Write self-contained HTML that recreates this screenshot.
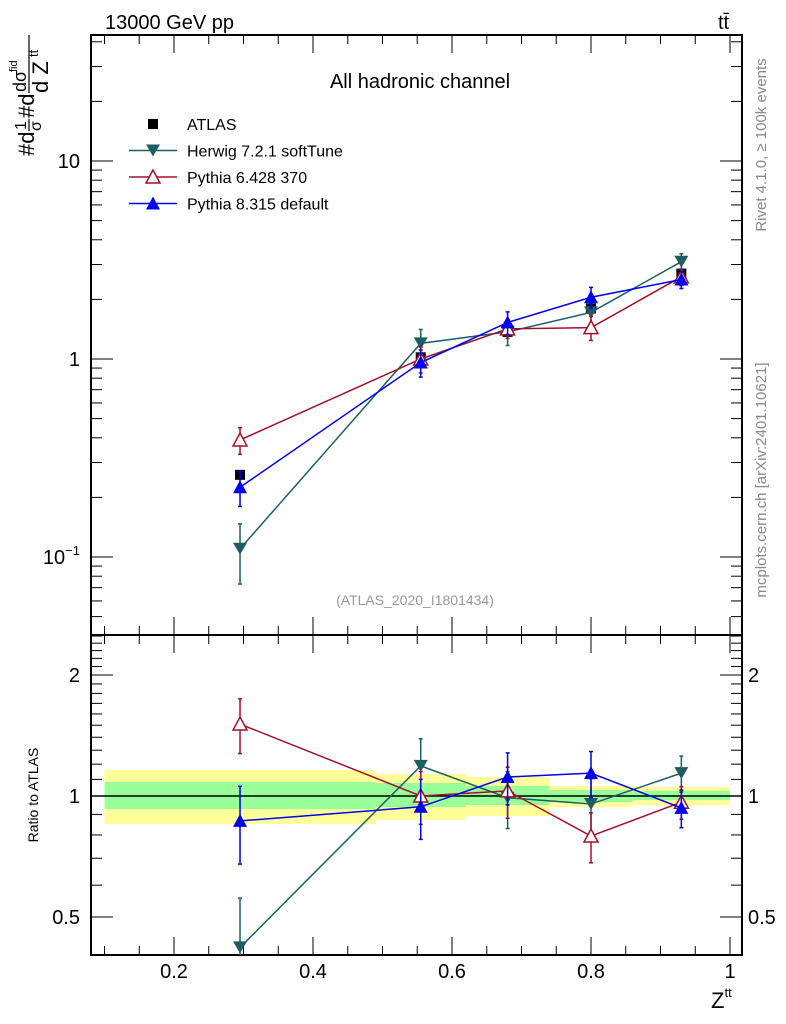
<!DOCTYPE html>
<html><head><meta charset="utf-8"><style>
body{margin:0;background:#fff;}
svg{display:block;font-family:"Liberation Sans",sans-serif;}
</style></head><body>
<svg id="c" width="786" height="1024" viewBox="0 0 786 1024" xmlns="http://www.w3.org/2000/svg">
<defs><clipPath id="rclip"><rect x="91" y="635" width="651" height="320"/></clipPath><clipPath id="mclip"><rect x="91" y="35" width="651" height="600"/></clipPath></defs>
<g id="bands"></g>
<g id="frames"></g>
<g id="series"></g>
<text x="105" y="29" font-size="20">13000 GeV pp</text>
<text x="718" y="29" font-size="20">tt̄</text>
<text x="420" y="88" font-size="20" text-anchor="middle">All hadronic channel</text>
<text x="415" y="605" font-size="14" fill="#999" text-anchor="middle">(ATLAS_2020_I1801434)</text>
<text transform="translate(766,145) rotate(-90)" font-size="15" fill="#888" text-anchor="middle">Rivet 4.1.0, ≥ 100k events</text>
<text transform="translate(766,480) rotate(-90)" font-size="15" fill="#888" text-anchor="middle">mcplots.cern.ch [arXiv:2401.10621]</text>
<g>
<text transform="translate(34,156) rotate(-90)" font-size="22">#d</text>
<text transform="translate(26,130) rotate(-90)" font-size="16">1</text>
<line x1="29" x2="29" y1="119" y2="131" stroke="#000" stroke-width="1.2"/>
<text transform="translate(41,131) rotate(-90)" font-size="16">σ</text>
<text transform="translate(34,118) rotate(-90)" font-size="22">#d</text>
<text transform="translate(26,92) rotate(-90)" font-size="18">dσ</text>
<text transform="translate(17,72) rotate(-90)" font-size="11">fid</text>
<line x1="29" x2="29" y1="35" y2="93" stroke="#000" stroke-width="1.2"/>
<text transform="translate(48,93) rotate(-90)" font-size="22">d Z</text>
<text transform="translate(38,57) rotate(-90)" font-size="13">tt</text>
</g>
<text transform="translate(38,795) rotate(-90)" font-size="14" text-anchor="middle">Ratio to ATLAS</text>
<text x="711" y="1008" font-size="22">Z<tspan font-size="13" dy="-11">tt</tspan></text>
<g id="legend"></g>
</svg>
<script>
const xCenters=[0.295,0.555,0.68,0.80,0.93];
const binEdges=[0.1,0.49,0.62,0.74,0.86,1.0];
const atlas=[0.26,1.02,1.37,1.8,2.7];
const herwig=[0.11,1.2,1.37,1.72,3.1];
const herwigErr=[0.037,0.21,0.2,0.2,0.3];
const py6=[0.39,1.0,1.42,1.44,2.6];
const py6Err=[0.06,0.15,0.15,0.2,0.25];
const py8=[0.225,0.96,1.53,2.05,2.52];
const py8Err=[0.045,0.15,0.2,0.25,0.25];
const rHerwig=[0.42,1.188,0.99,0.955,1.14];
const rHerwigErr=[0.137,0.2,0.16,0.15,0.117];
const rPy6=[1.51,1.0,1.03,0.795,0.965];
const rPy6Err=[0.235,0.15,0.15,0.113,0.09];
const rPy8=[0.867,0.94,1.115,1.14,0.934];
const rPy8Err=[0.19,0.16,0.165,0.15,0.1];
const greenHi=[1.083,1.077,1.059,1.035,1.03];
const greenLo=[0.928,0.939,0.95,0.966,0.977];
const yellowHi=[1.16,1.134,1.115,1.059,1.053];
const yellowLo=[0.852,0.872,0.892,0.939,0.95];
const xTicks=[0.2,0.4,0.6,0.8,1];
const ratioTicks=[0.5,1,2];

const NS="http://www.w3.org/2000/svg";
const L=91,R=742,T=35,M=635,B=955;
const X=v=>174+(v-0.2)*695;
const Y=v=>359-198*Math.log10(v);
const YR=v=>796-121*Math.log2(v);
function mk(tag,at,par){const e=document.createElementNS(NS,tag);for(const k in at)e.setAttribute(k,at[k]);document.getElementById(par).appendChild(e);return e;}
for(let i=0;i<5;i++){
 const b=mk('rect',{x:X(binEdges[i]),y:YR(yellowHi[i]),width:X(binEdges[i+1])-X(binEdges[i]),height:YR(yellowLo[i])-YR(yellowHi[i]),fill:'#ffff99'},'bands');
 
 
 const g=mk('rect',{x:X(binEdges[i]),y:YR(greenHi[i]),width:X(binEdges[i+1])-X(binEdges[i]),height:YR(greenLo[i])-YR(greenHi[i]),fill:'#99ff99'},'bands');
 
 
}
mk('rect',{x:L,y:T,width:R-L,height:M-T,fill:'none',stroke:'#000','stroke-width':2},'frames');
mk('rect',{x:L,y:M,width:R-L,height:B-M,fill:'none',stroke:'#000','stroke-width':2},'frames');
mk('line',{x1:L,x2:R,y1:YR(1),y2:YR(1),stroke:'#000','stroke-width':1.5},'frames');
for(let v=0.1;v<=1.001;v+=0.05){const maj=Math.abs(v*10-Math.round(v*10))<0.01&&Math.round(v*10)%2==0;const len=maj?18:9;const x=X(v);
 mk('line',{x1:x,x2:x,y1:B,y2:B-len,stroke:'#000'},'frames');mk('line',{x1:x,x2:x,y1:M,y2:M-len,stroke:'#000'},'frames');mk('line',{x1:x,x2:x,y1:T,y2:T+len,stroke:'#000'},'frames');mk('line',{x1:x,x2:x,y1:M,y2:M+len,stroke:'#000'},'frames');}
xTicks.forEach(v=>{const t=mk('text',{x:X(v),y:978,'font-size':20,'text-anchor':'middle'},'frames');t.textContent=String(v);
 
 });
for(let d=-2;d<=1;d++)for(let m=1;m<=9;m++){const v=m*Math.pow(10,d);const y=Y(v);if(y<T||y>M)continue;const len=m==1?22:11;
 mk('line',{x1:L,x2:L+len,y1:y,y2:y,stroke:'#000'},'frames');mk('line',{x1:R,x2:R-len,y1:y,y2:y,stroke:'#000'},'frames');}
[[10,'10'],[1,'1']].forEach(([v,s])=>{const t=mk('text',{x:80,y:Y(v)+7,'font-size':20,'text-anchor':'end'},'frames');t.textContent=s;});
{const t=mk('text',{x:80,y:Y(0.1)+7,'font-size':20,'text-anchor':'end'},'frames');t.innerHTML='10<tspan font-size="13" dy="-9">−1</tspan>';}
for(let v=0.4;v<=2.55;v+=0.1){const y=YR(v);if(y<M||y>B)continue;const maj=ratioTicks.some(r=>Math.abs(r-v)<0.01);const len=maj?22:11;
 mk('line',{x1:L,x2:L+len,y1:y,y2:y,stroke:'#000'},'frames');mk('line',{x1:R,x2:R-len,y1:y,y2:y,stroke:'#000'},'frames');}
ratioTicks.forEach(v=>{const s=String(v);const t=mk('text',{x:80,y:YR(v)+7,'font-size':20,'text-anchor':'end'},'frames');t.textContent=s;
 const t2=mk('text',{x:748,y:YR(v)+7,'font-size':20},'frames');t2.textContent=s;});
function marker(kind,x,y,col,par){
 if(kind=='sq')return mk('rect',{x:x-5,y:y-5,width:10,height:10,fill:'#000'},par);
 if(kind=='down')return mk('polygon',{points:`${x-7},${y-6} ${x+7},${y-6} ${x},${y+6}`,fill:col},par);
 if(kind=='up')return mk('polygon',{points:`${x-7},${y+6} ${x+7},${y+6} ${x},${y-7}`,fill:col},par);
 return mk('polygon',{points:`${x-7},${y+6} ${x+7},${y+6} ${x},${y-7}`,fill:'#fff',stroke:col,'stroke-width':1.5},par);
}
function series(name,vals,errs,fy,col,kind,rel){
 const g=mk('g',{'clip-path':rel?'url(#rclip)':'url(#mclip)'},'series');g.id=name+(rel?'-r':'');
 
 
 if(col!='#000'){const pts=vals.map((v,i)=>X(xCenters[i])+','+fy(v)).join(' ');mk('polyline',{points:pts,fill:'none',stroke:col,'stroke-width':1.5},g.id);}
 vals.forEach((v,i)=>{const x=X(xCenters[i]);
  if(errs){const y1=fy(v+errs[i]),y2=fy(Math.max(v-errs[i],0.01));mk('line',{x1:x,x2:x,y1:y1,y2:y2,stroke:col,'stroke-width':1.5},g.id);
   mk('line',{x1:x-2,x2:x+2,y1:y1,y2:y1,stroke:col,'stroke-width':1.5},g.id);mk('line',{x1:x-2,x2:x+2,y1:y2,y2:y2,stroke:col,'stroke-width':1.5},g.id);}
  const m=marker(kind,x,fy(v),col,g.id);
  
  });
}
series('atlas',atlas,null,Y,'#000','sq',false);
series('herwig',herwig,herwigErr,Y,'#1d5e64','down',false);
series('pythia6',py6,py6Err,Y,'#a0112a','open',false);
series('pythia8',py8,py8Err,Y,'#0000ee','up',false);
series('herwig',rHerwig,rHerwigErr,YR,'#1d5e64','down',true);
series('pythia6',rPy6,rPy6Err,YR,'#a0112a','open',true);
series('pythia8',rPy8,rPy8Err,YR,'#0000ee','up',true);
const leg=[['ATLAS','#000','sq'],['Herwig 7.2.1 softTune','#1d5e64','down'],['Pythia 6.428 370','#a0112a','open'],['Pythia 8.315 default','#0000ee','up']];
leg.forEach((l,i)=>{const y=124+i*26.5;
 if(i>0)mk('line',{x1:129,x2:177,y1:y,y2:y,stroke:l[1],'stroke-width':1.5},'legend');
 const m=marker(l[2],153,y,l[1],'legend');
 
 
 const t=mk('text',{x:187,y:y+6,'font-size':16},'legend');t.textContent=l[0];
 
 });
</script>
</body></html>
